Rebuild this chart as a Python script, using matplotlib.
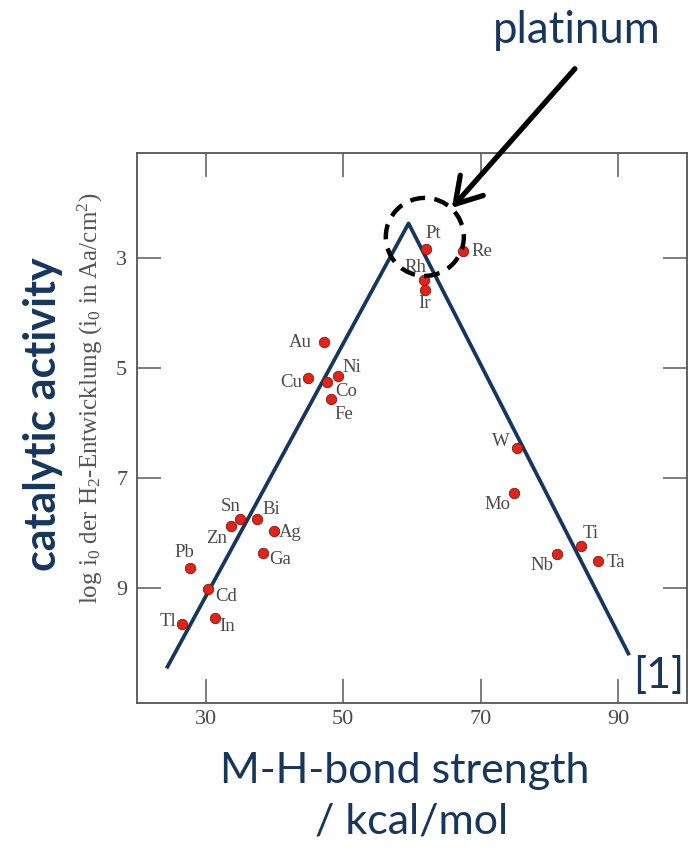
import numpy as np
import matplotlib
matplotlib.use('Agg')
import matplotlib.pyplot as plt
from matplotlib.patches import Ellipse

plt.rcParams['mathtext.fontset'] = 'custom'
plt.rcParams['mathtext.rm'] = 'Liberation Serif'
plt.rcParams['mathtext.it'] = 'Liberation Serif:italic'

# metals: M-H bond strength (kcal/mol) and log i0 of hydrogen evolution
metals = ['Pt', 'Re', 'Rh', 'Ir', 'Au', 'Cu', 'Co', 'Ni', 'Fe', 'W', 'Mo', 'Ti',
          'Nb', 'Ta', 'Sn', 'Bi', 'Zn', 'Ag', 'Ga', 'Pb', 'Cd', 'In', 'Tl']
bond = np.array([62.1, 67.4, 61.7, 61.9, 47.2, 44.9, 47.6, 49.3, 48.2, 75.3, 74.9, 84.6,
                 81.1, 87.1, 35.0, 37.5, 33.6, 39.9, 38.4, 27.7, 30.3, 31.3, 26.6])
log_i0 = np.array([2.85, 2.89, 3.41, 3.59, 4.54, 5.19, 5.26, 5.15, 5.58, 6.47, 7.28, 8.25,
                   8.39, 8.52, 7.75, 7.75, 7.89, 7.98, 8.37, 8.64, 9.03, 9.55, 9.67])

# volcano lines
volcano_x = [24.3, 59.5, 91.6]
volcano_y = [10.47, 2.38, 10.23]

# label offsets (points) relative to each marker
offsets = {
    'Pt': (5, 11), 'Re': (14, 0), 'Rh': (-6, 9), 'Ir': (0, -10), 'Au': (-17, 0),
    'Cu': (-12, -3), 'Co': (14, -7), 'Ni': (10, 6), 'Fe': (9, -11), 'W': (-12, 5),
    'Mo': (-12, -8), 'Ti': (7, 9), 'Nb': (-11, -8), 'Ta': (13, -1), 'Sn': (-7, 9),
    'Bi': (10, 7), 'Zn': (-10, -9), 'Ag': (12, -1), 'Ga': (12, -5), 'Pb': (-4, 11),
    'Cd': (13, -5), 'In': (9, -6), 'Tl': (-10, 2),
}

navy = '#17365d'
gray = '#4a4a4a'

fig = plt.figure(figsize=(6.93, 8.5), dpi=100)
ax = fig.add_axes([0.1977, 0.1729, 0.7936, 0.6471])

ax.plot(volcano_x, volcano_y, color=navy, lw=2.7, solid_capstyle='butt', zorder=2)
ax.plot(bond, log_i0, 'o', ms=7.5, mfc='#e2231a', mec='#7a1a10', mew=0.6, zorder=3)

for name, x, y in zip(metals, bond, log_i0):
    ax.annotate(name, (x, y), xytext=offsets[name], textcoords='offset points',
                ha='center', va='center', fontsize=13.5, color=gray,
                family='Liberation Serif', zorder=4)

ax.set_xlim(20, 100)
ax.set_ylim(11.1, 1.1)
ax.set_xticks([30, 50, 70, 90])
ax.set_yticks([3, 5, 7, 9])
ax.tick_params(direction='in', length=17, width=1.2, color='#666666',
               top=True, right=True, labelsize=16, labelcolor=gray)
ax.tick_params(axis='x', pad=5)
ax.tick_params(axis='y', pad=7)
for lab in ax.get_xticklabels() + ax.get_yticklabels():
    lab.set_family('Liberation Serif')
for sp in ax.spines.values():
    sp.set_color('#555555')
    sp.set_linewidth(1.3)

fig.text(90 / 693, 1 - 398 / 850,
         r'log i$_0$ der H$_2$-Entwicklung (i$_0$ in Aa/cm$^2$)',
         rotation=90, ha='center', va='center', fontsize=18, color='#555555',
         family='Liberation Serif')

fig.text(0.062, 0.513, 'catalytic activity', rotation=90, ha='center', va='center',
         fontsize=31, fontweight='bold', color=navy, family='Lato')
fig.text(0.5844, 1 - 783 / 850, 'M-H-bond strength', ha='center', va='baseline',
         fontsize=31, color=navy, family='Lato')
fig.text(0.594, 1 - 833 / 850, '/ kcal/mol', ha='center', va='baseline',
         fontsize=31, color=navy, family='Lato')
fig.text(0.8326, 1 - 42.7 / 850, 'platinum', ha='center', va='baseline',
         fontsize=31.5, color=navy, family='Lato')
fig.text(0.950, 1 - 675 / 850, '[1]', ha='center', va='center',
         fontsize=31, color=navy, family='Lato')

# dashed ring around the volcano top and the pointer to it
ring = Ellipse((0.613, 0.7213), 78 / 693, 78 / 850, transform=fig.transFigure,
               fill=False, ec='black', lw=3.2, linestyle=(0, (3.4, 2.1)), zorder=10)
fig.add_artist(ring)
ax.annotate('', xy=(450 / 693, 1 - 210 / 850), xycoords='figure fraction',
            xytext=(576.7 / 693, 1 - 66.7 / 850), textcoords='figure fraction',
            arrowprops=dict(arrowstyle='->,head_length=0.9,head_width=0.55',
                            mutation_scale=20, lw=3.8, color='black'),
            annotation_clip=False)

plt.savefig('out.png', dpi=100)
